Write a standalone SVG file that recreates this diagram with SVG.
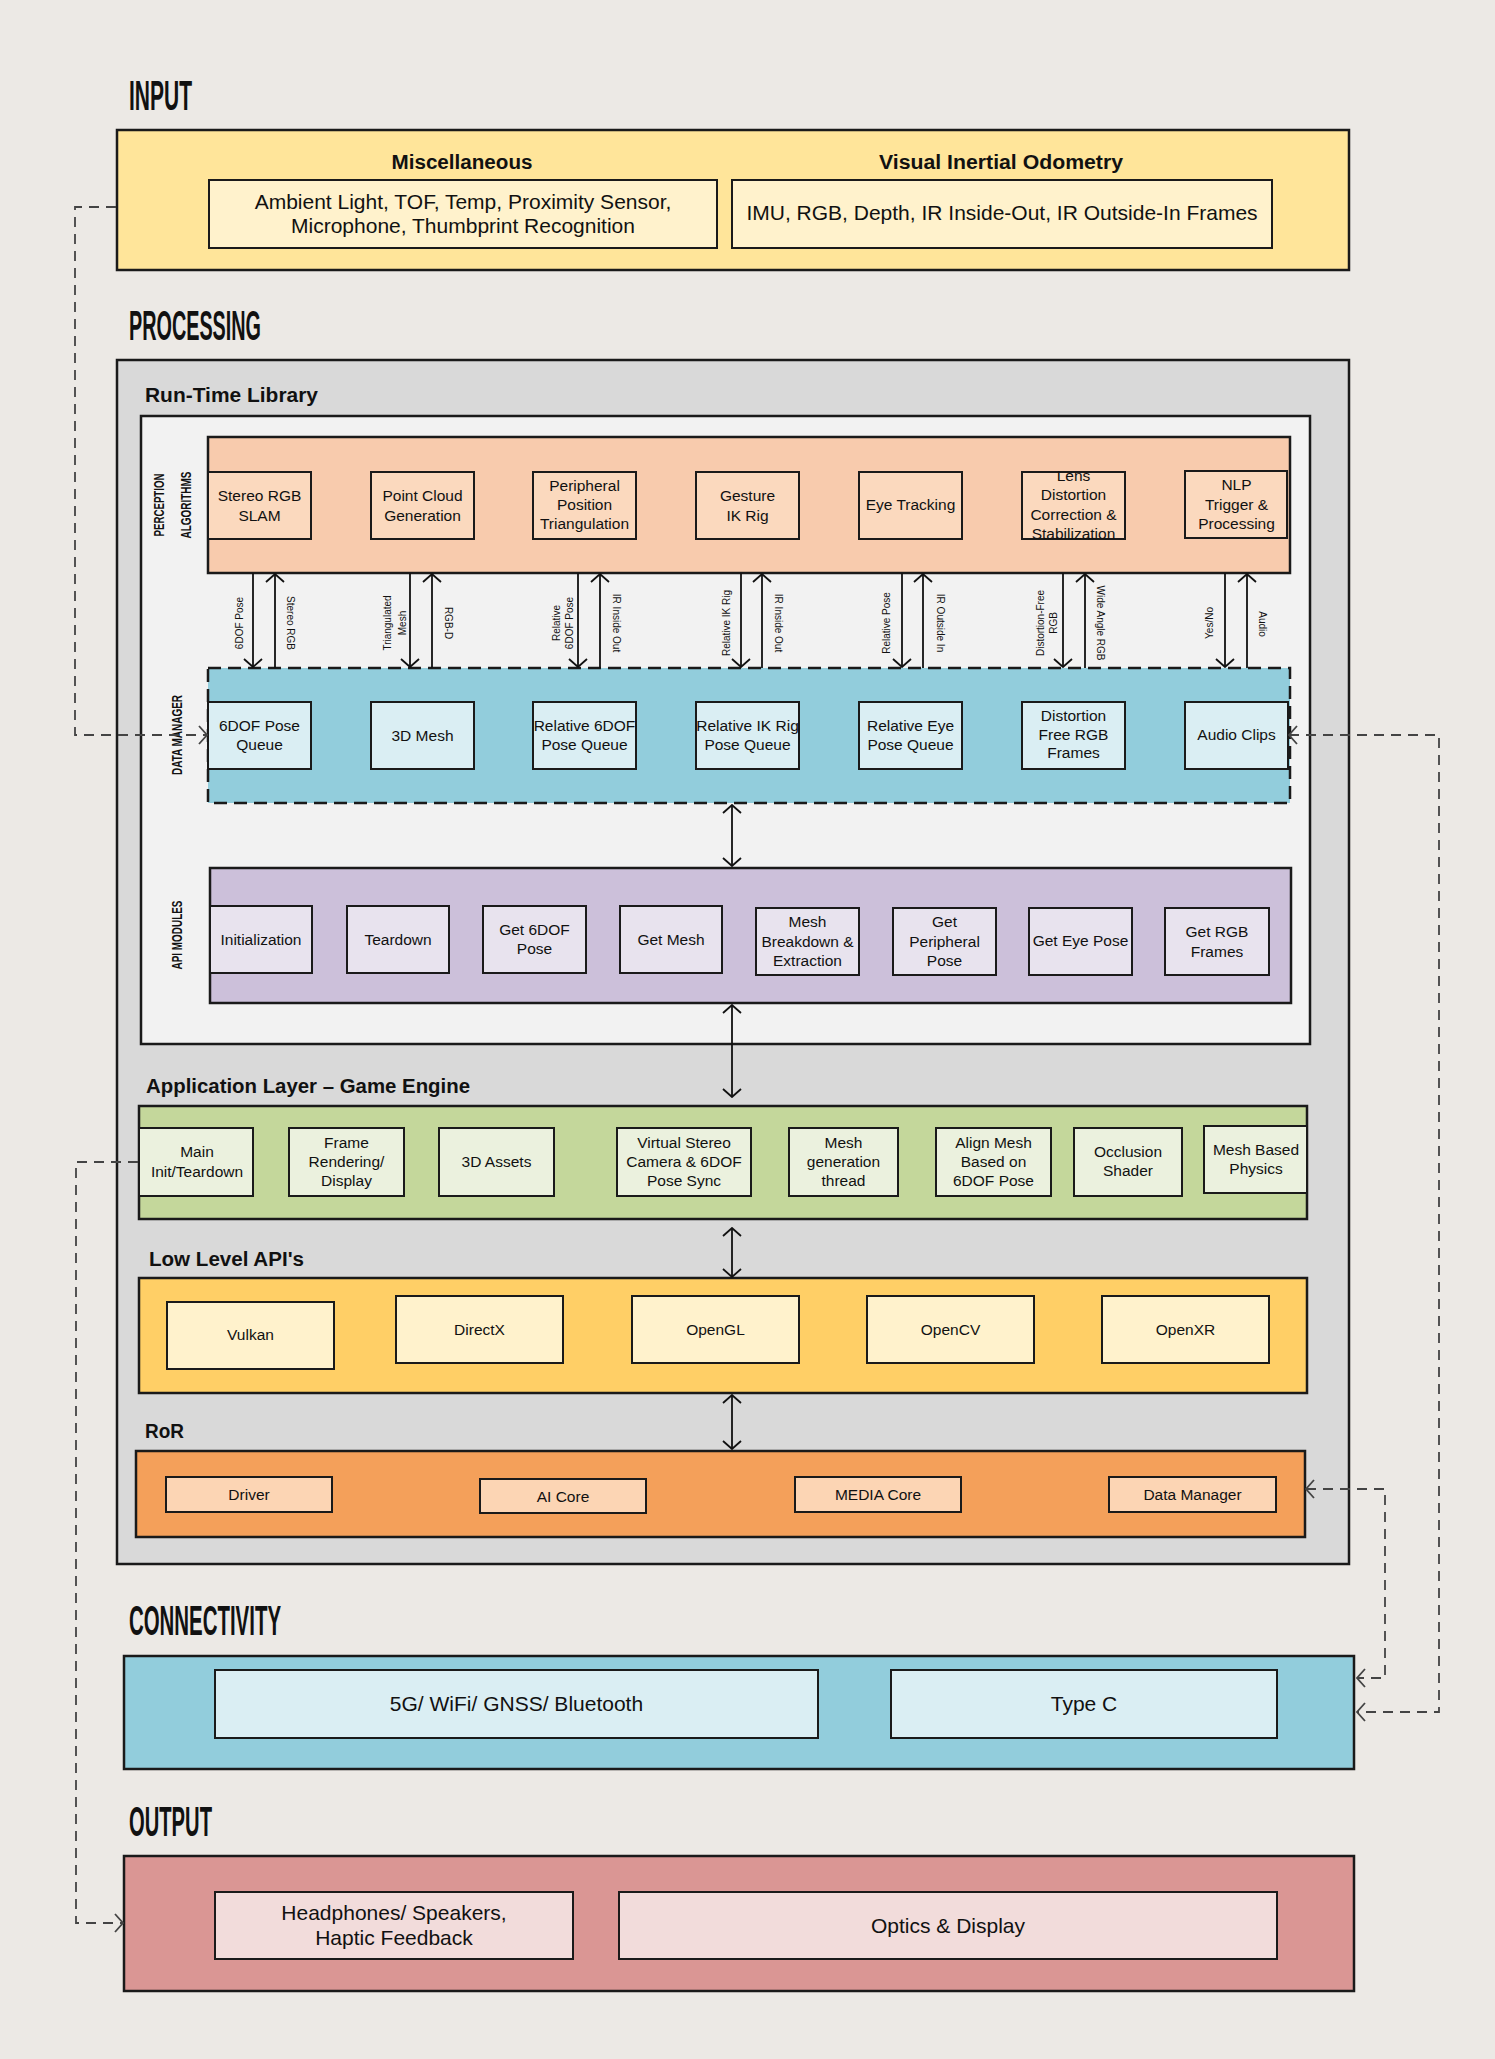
<svg xmlns="http://www.w3.org/2000/svg" width="1495" height="2059" viewBox="0 0 1495 2059">
<defs>
<style>
.t{font-family:"Liberation Sans",Arial,sans-serif;fill:#111;}
.title{font-family:"Liberation Sans",Arial,sans-serif;font-weight:bold;font-size:42px;fill:#111;}
.h{font-family:"Liberation Sans",Arial,sans-serif;font-weight:bold;font-size:19.5px;fill:#111;}
.side{font-family:"Liberation Sans",Arial,sans-serif;font-weight:bold;font-size:15px;fill:#111;}
.n{font-family:"Liberation Sans",Arial,sans-serif;font-size:15.5px;fill:#111;text-anchor:middle;}
.big{font-family:"Liberation Sans",Arial,sans-serif;font-size:21px;fill:#111;text-anchor:middle;}
.lab{font-family:"Liberation Sans",Arial,sans-serif;font-size:10px;fill:#111;text-anchor:middle;}
.box{stroke:#1a1a1a;stroke-width:2.5;}
.nd{stroke:#1a1a1a;stroke-width:2;}
.arr{stroke:#111;stroke-width:1.8;fill:none;}
.dash{stroke:#444;stroke-width:1.8;fill:none;stroke-dasharray:10 7;}
</style>
<marker id="ah" viewBox="0 0 10 20" refX="9" refY="10" markerWidth="10" markerHeight="20" markerUnits="userSpaceOnUse" orient="auto-start-reverse">
<path d="M1,1 L9,10 L1,19" fill="none" stroke="#111" stroke-width="1.8"/>
</marker>
<marker id="ahg" viewBox="0 0 10 20" refX="9" refY="10" markerWidth="10" markerHeight="20" markerUnits="userSpaceOnUse" orient="auto-start-reverse">
<path d="M1,1 L9,10 L1,19" fill="none" stroke="#444" stroke-width="1.8"/>
</marker>
</defs>
<rect x="0" y="0" width="1495" height="2059" fill="#ECE9E5"/>

<!-- INPUT -->
<text class="title" x="129" y="110" textLength="63" lengthAdjust="spacingAndGlyphs">INPUT</text>
<g id="input">
<rect class="box" x="117" y="130" width="1232" height="140" fill="#FFE59A"/>
<text class="h" x="462" y="169" text-anchor="middle" textLength="141" lengthAdjust="spacingAndGlyphs">Miscellaneous</text>
<text class="h" x="1001" y="169" text-anchor="middle" textLength="244" lengthAdjust="spacingAndGlyphs">Visual Inertial Odometry</text>
</g>
<g id="misc">
<rect class="nd" x="209" y="180" width="508" height="68" fill="#FFF2CC"/>
<text class="big" x="463" y="209">Ambient Light, TOF, Temp, Proximity Sensor,</text>
<text class="big" x="463" y="233">Microphone, Thumbprint Recognition</text>
</g>
<g id="vio">
<rect class="nd" x="732" y="180" width="540" height="68" fill="#FFF2CC"/>
<text class="big" x="1002" y="220">IMU, RGB, Depth, IR Inside-Out, IR Outside-In Frames</text>
</g>

<!-- PROCESSING -->
<text class="title" x="129" y="340" textLength="132" lengthAdjust="spacingAndGlyphs">PROCESSING</text>
<g id="processing">
<rect class="box" x="117" y="360" width="1232" height="1204" fill="#D9D9D9"/>
</g>
<g id="runtime">
<rect class="box" x="141" y="416" width="1169" height="628" fill="#F2F2F2"/>
<text class="h" x="145" y="402" textLength="173" lengthAdjust="spacingAndGlyphs">Run-Time Library</text>
</g>

<!-- Perception -->
<g id="perception">
<rect class="box" x="208" y="437" width="1082" height="136" fill="#F8CBAD"/>
<text class="side" transform="translate(163.5,505) rotate(-90)" text-anchor="middle" textLength="63" lengthAdjust="spacingAndGlyphs">PERCEPTION</text>
<text class="side" transform="translate(190.5,505) rotate(-90)" text-anchor="middle" textLength="67" lengthAdjust="spacingAndGlyphs">ALGORITHMS</text>
</g>
<g id="p-slam"><rect class="nd" x="208" y="472" width="103" height="67" fill="#FBD9BE"/><text class="n" x="259.5" y="501">Stereo RGB</text><text class="n" x="259.5" y="521">SLAM</text></g>
<g id="p-cloud"><rect class="nd" x="371" y="472" width="103" height="67" fill="#FBD9BE"/><text class="n" x="422.5" y="501">Point Cloud</text><text class="n" x="422.5" y="521">Generation</text></g>
<g id="p-periph"><rect class="nd" x="533" y="472" width="103" height="67" fill="#FBD9BE"/><text class="n" x="584.5" y="491">Peripheral</text><text class="n" x="584.5" y="510">Position</text><text class="n" x="584.5" y="529">Triangulation</text></g>
<g id="p-gesture"><rect class="nd" x="696" y="472" width="103" height="67" fill="#FBD9BE"/><text class="n" x="747.5" y="501">Gesture</text><text class="n" x="747.5" y="521">IK Rig</text></g>
<g id="p-eye"><rect class="nd" x="859" y="472" width="103" height="67" fill="#FBD9BE"/><text class="n" x="910.5" y="510">Eye Tracking</text></g>
<g id="p-lens"><rect class="nd" x="1022" y="472" width="103" height="67" fill="#FBD9BE"/><text class="n" x="1073.5" y="481">Lens</text><text class="n" x="1073.5" y="500">Distortion</text><text class="n" x="1073.5" y="520">Correction &amp;</text><text class="n" x="1073.5" y="539">Stabilization</text></g>
<g id="p-nlp"><rect class="nd" x="1185" y="471" width="102" height="67" fill="#FBD9BE"/><text class="n" x="1236.5" y="490">NLP</text><text class="n" x="1236.5" y="510">Trigger &amp;</text><text class="n" x="1236.5" y="529">Processing</text></g>

<!-- Data manager -->
<g id="datamanager">
<rect x="208" y="668" width="1082" height="135" fill="#92CDDC" stroke="#1a1a1a" stroke-width="2.5" stroke-dasharray="13 7"/>
<text class="side" transform="translate(181.5,735) rotate(-90)" text-anchor="middle" textLength="80" lengthAdjust="spacingAndGlyphs">DATA MANAGER</text>
</g>
<g id="d-6dof"><rect class="nd" x="208" y="702" width="103" height="67" fill="#DAEEF3"/><text class="n" x="259.5" y="731">6DOF Pose</text><text class="n" x="259.5" y="750">Queue</text></g>
<g id="d-mesh"><rect class="nd" x="371" y="702" width="103" height="67" fill="#DAEEF3"/><text class="n" x="422.5" y="741">3D Mesh</text></g>
<g id="d-rel6dof"><rect class="nd" x="533" y="702" width="103" height="67" fill="#DAEEF3"/><text class="n" x="584.5" y="731">Relative 6DOF</text><text class="n" x="584.5" y="750">Pose Queue</text></g>
<g id="d-relik"><rect class="nd" x="696" y="702" width="103" height="67" fill="#DAEEF3"/><text class="n" x="747.5" y="731">Relative IK Rig</text><text class="n" x="747.5" y="750">Pose Queue</text></g>
<g id="d-releye"><rect class="nd" x="859" y="702" width="103" height="67" fill="#DAEEF3"/><text class="n" x="910.5" y="731">Relative Eye</text><text class="n" x="910.5" y="750">Pose Queue</text></g>
<g id="d-dfrgb"><rect class="nd" x="1022" y="702" width="103" height="67" fill="#DAEEF3"/><text class="n" x="1073.5" y="721">Distortion</text><text class="n" x="1073.5" y="740">Free RGB</text><text class="n" x="1073.5" y="758">Frames</text></g>
<g id="d-audio"><rect class="nd" x="1185" y="702" width="103" height="67" fill="#DAEEF3"/><text class="n" x="1236.5" y="740">Audio Clips</text></g>

<!-- API modules -->
<g id="api">
<rect class="box" x="210" y="868" width="1081" height="135" fill="#CCC0DA"/>
<text class="side" transform="translate(182,935) rotate(-90)" text-anchor="middle" textLength="69" lengthAdjust="spacingAndGlyphs">API MODULES</text>
</g>
<g id="a-init"><rect class="nd" x="210" y="906" width="102" height="67" fill="#E8E3EE"/><text class="n" x="261" y="945">Initialization</text></g>
<g id="a-teardown"><rect class="nd" x="347" y="906" width="102" height="67" fill="#E8E3EE"/><text class="n" x="398" y="945">Teardown</text></g>
<g id="a-get6dof"><rect class="nd" x="483" y="906" width="103" height="67" fill="#E8E3EE"/><text class="n" x="534.5" y="935">Get 6DOF</text><text class="n" x="534.5" y="954">Pose</text></g>
<g id="a-getmesh"><rect class="nd" x="620" y="906" width="102" height="67" fill="#E8E3EE"/><text class="n" x="671" y="945">Get Mesh</text></g>
<g id="a-breakdown"><rect class="nd" x="756" y="908" width="103" height="67" fill="#E8E3EE"/><text class="n" x="807.5" y="927">Mesh</text><text class="n" x="807.5" y="947">Breakdown &amp;</text><text class="n" x="807.5" y="966">Extraction</text></g>
<g id="a-periph"><rect class="nd" x="893" y="908" width="103" height="67" fill="#E8E3EE"/><text class="n" x="944.5" y="927">Get</text><text class="n" x="944.5" y="947">Peripheral</text><text class="n" x="944.5" y="966">Pose</text></g>
<g id="a-eye"><rect class="nd" x="1029" y="908" width="103" height="67" fill="#E8E3EE"/><text class="n" x="1080.5" y="946">Get Eye Pose</text></g>
<g id="a-rgb"><rect class="nd" x="1165" y="908" width="104" height="67" fill="#E8E3EE"/><text class="n" x="1217" y="937">Get RGB</text><text class="n" x="1217" y="957">Frames</text></g>

<!-- Application layer -->
<g id="applayer">
<rect class="box" x="139" y="1106" width="1168" height="113" fill="#C4D79B"/>
<text class="h" x="146" y="1093" textLength="324" lengthAdjust="spacingAndGlyphs">Application Layer – Game Engine</text>
</g>
<g id="g-main"><rect class="nd" x="139" y="1128" width="114" height="68" fill="#EBF1DE"/><text class="n" x="197" y="1157">Main</text><text class="n" x="197" y="1177">Init/Teardown</text></g>
<g id="g-frame"><rect class="nd" x="289" y="1128" width="115" height="68" fill="#EBF1DE"/><text class="n" x="346.5" y="1148">Frame</text><text class="n" x="346.5" y="1167">Rendering/</text><text class="n" x="346.5" y="1186">Display</text></g>
<g id="g-assets"><rect class="nd" x="439" y="1128" width="115" height="68" fill="#EBF1DE"/><text class="n" x="496.5" y="1167">3D Assets</text></g>
<g id="g-vstereo"><rect class="nd" x="617" y="1128" width="134" height="68" fill="#EBF1DE"/><text class="n" x="684" y="1148">Virtual Stereo</text><text class="n" x="684" y="1167">Camera &amp; 6DOF</text><text class="n" x="684" y="1186">Pose Sync</text></g>
<g id="g-meshgen"><rect class="nd" x="789" y="1128" width="109" height="68" fill="#EBF1DE"/><text class="n" x="843.5" y="1148">Mesh</text><text class="n" x="843.5" y="1167">generation</text><text class="n" x="843.5" y="1186">thread</text></g>
<g id="g-align"><rect class="nd" x="936" y="1128" width="115" height="68" fill="#EBF1DE"/><text class="n" x="993.5" y="1148">Align Mesh</text><text class="n" x="993.5" y="1167">Based on</text><text class="n" x="993.5" y="1186">6DOF Pose</text></g>
<g id="g-occl"><rect class="nd" x="1074" y="1128" width="108" height="68" fill="#EBF1DE"/><text class="n" x="1128" y="1157">Occlusion</text><text class="n" x="1128" y="1176">Shader</text></g>
<g id="g-physics"><rect class="nd" x="1204" y="1126" width="103" height="67" fill="#EBF1DE"/><text class="n" x="1256" y="1155">Mesh Based</text><text class="n" x="1256" y="1174">Physics</text></g>

<!-- Low level APIs -->
<g id="lowlevel">
<rect class="box" x="139" y="1278" width="1168" height="115" fill="#FFCF66"/>
<text class="h" x="149" y="1266" textLength="155" lengthAdjust="spacingAndGlyphs">Low Level API's</text>
</g>
<g id="l-vulkan"><rect class="nd" x="167" y="1302" width="167" height="67" fill="#FFF2CC"/><text class="n" x="250.5" y="1340">Vulkan</text></g>
<g id="l-directx"><rect class="nd" x="396" y="1296" width="167" height="67" fill="#FFF2CC"/><text class="n" x="479.5" y="1335">DirectX</text></g>
<g id="l-opengl"><rect class="nd" x="632" y="1296" width="167" height="67" fill="#FFF2CC"/><text class="n" x="715.5" y="1335">OpenGL</text></g>
<g id="l-opencv"><rect class="nd" x="867" y="1296" width="167" height="67" fill="#FFF2CC"/><text class="n" x="950.5" y="1335">OpenCV</text></g>
<g id="l-openxr"><rect class="nd" x="1102" y="1296" width="167" height="67" fill="#FFF2CC"/><text class="n" x="1185.5" y="1335">OpenXR</text></g>

<!-- RoR -->
<g id="ror">
<rect class="box" x="136" y="1451" width="1169" height="86" fill="#F4A05A"/>
<text class="h" x="145" y="1438" textLength="39" lengthAdjust="spacingAndGlyphs">RoR</text>
</g>
<g id="r-driver"><rect class="nd" x="166" y="1477" width="166" height="35" fill="#FCD5B4"/><text class="n" x="249" y="1499.5">Driver</text></g>
<g id="r-ai"><rect class="nd" x="480" y="1479" width="166" height="34" fill="#FCD5B4"/><text class="n" x="563" y="1501.5">AI Core</text></g>
<g id="r-media"><rect class="nd" x="795" y="1477" width="166" height="35" fill="#FCD5B4"/><text class="n" x="878" y="1499.5">MEDIA Core</text></g>
<g id="r-dm"><rect class="nd" x="1109" y="1477" width="167" height="35" fill="#FCD5B4"/><text class="n" x="1192.5" y="1499.5">Data Manager</text></g>

<!-- CONNECTIVITY -->
<text class="title" x="129" y="1635" textLength="152" lengthAdjust="spacingAndGlyphs">CONNECTIVITY</text>
<g id="connectivity">
<rect class="box" x="124" y="1656" width="1230" height="113" fill="#92CDDC"/>
</g>
<g id="c-wireless"><rect class="nd" x="215" y="1670" width="603" height="68" fill="#DAEEF3"/><text class="big" x="516.5" y="1711">5G/ WiFi/ GNSS/ Bluetooth</text></g>
<g id="c-typec"><rect class="nd" x="891" y="1670" width="386" height="68" fill="#DAEEF3"/><text class="big" x="1084" y="1711">Type C</text></g>

<!-- OUTPUT -->
<text class="title" x="129" y="1836" textLength="83" lengthAdjust="spacingAndGlyphs">OUTPUT</text>
<g id="output">
<rect class="box" x="124" y="1856" width="1230" height="135" fill="#DA9694"/>
</g>
<g id="o-audio"><rect class="nd" x="215" y="1892" width="358" height="67" fill="#F2DCDB"/><text class="big" x="394" y="1920">Headphones/ Speakers,</text><text class="big" x="394" y="1945">Haptic Feedback</text></g>
<g id="o-optics"><rect class="nd" x="619" y="1892" width="658" height="67" fill="#F2DCDB"/><text class="big" x="948" y="1933">Optics &amp; Display</text></g>

<!-- Connectors -->
<g id="connectors">
<path class="arr" d="M253,573 V667" marker-end="url(#ah)"/>
<path class="arr" d="M275,668 V574" marker-end="url(#ah)"/>
<path class="arr" d="M410,573 V667" marker-end="url(#ah)"/>
<path class="arr" d="M432,668 V574" marker-end="url(#ah)"/>
<path class="arr" d="M578,573 V667" marker-end="url(#ah)"/>
<path class="arr" d="M600,668 V574" marker-end="url(#ah)"/>
<path class="arr" d="M741,573 V667" marker-end="url(#ah)"/>
<path class="arr" d="M762,668 V574" marker-end="url(#ah)"/>
<path class="arr" d="M902,573 V667" marker-end="url(#ah)"/>
<path class="arr" d="M923,668 V574" marker-end="url(#ah)"/>
<path class="arr" d="M1063,573 V667" marker-end="url(#ah)"/>
<path class="arr" d="M1085,668 V574" marker-end="url(#ah)"/>
<path class="arr" d="M1225,573 V667" marker-end="url(#ah)"/>
<path class="arr" d="M1247,668 V574" marker-end="url(#ah)"/>

<text class="lab" transform="translate(242.5,623) rotate(-90)">6DOF Pose</text>
<text class="lab" transform="translate(286.5,623) rotate(90)">Stereo RGB</text>
<text class="lab" transform="translate(390.5,623) rotate(-90)">Triangulated</text>
<text class="lab" transform="translate(405.5,623) rotate(-90)">Mesh</text>
<text class="lab" transform="translate(444.5,623) rotate(90)">RGB-D</text>
<text class="lab" transform="translate(559.5,623) rotate(-90)">Relative</text>
<text class="lab" transform="translate(572.5,623) rotate(-90)">6DOF Pose</text>
<text class="lab" transform="translate(612.5,623) rotate(90)">IR Inside Out</text>
<text class="lab" transform="translate(729.5,623) rotate(-90)">Relative IK Rig</text>
<text class="lab" transform="translate(774.5,623) rotate(90)">IR Inside Out</text>
<text class="lab" transform="translate(889.5,623) rotate(-90)">Relative Pose</text>
<text class="lab" transform="translate(936.5,623) rotate(90)">IR Outside In</text>
<text class="lab" transform="translate(1043.5,623) rotate(-90)">Distortion-Free</text>
<text class="lab" transform="translate(1056.5,623) rotate(-90)">RGB</text>
<text class="lab" transform="translate(1096.5,623) rotate(90)">Wide Angle RGB</text>
<text class="lab" transform="translate(1212.5,623) rotate(-90)">Yes/No</text>
<text class="lab" transform="translate(1258.5,624) rotate(90)">Audio</text>

<path class="arr" d="M732,805 V866" marker-start="url(#ah)" marker-end="url(#ah)"/>
<path class="arr" d="M732,1005 V1097" marker-start="url(#ah)" marker-end="url(#ah)"/>
<path class="arr" d="M732,1228 V1277" marker-start="url(#ah)" marker-end="url(#ah)"/>
<path class="arr" d="M732,1395 V1449" marker-start="url(#ah)" marker-end="url(#ah)"/>

<path class="dash" d="M116,207 H75 V735 H207" marker-end="url(#ahg)"/>
<path class="dash" d="M1289,735 H1439 V1712 H1357" marker-start="url(#ahg)" marker-end="url(#ahg)"/>
<path class="dash" d="M1306,1489 H1385 V1678 H1357" marker-start="url(#ahg)" marker-end="url(#ahg)"/>
<path class="dash" d="M138,1162 H76 V1923 H123" marker-end="url(#ahg)"/>
</g>
</svg>
